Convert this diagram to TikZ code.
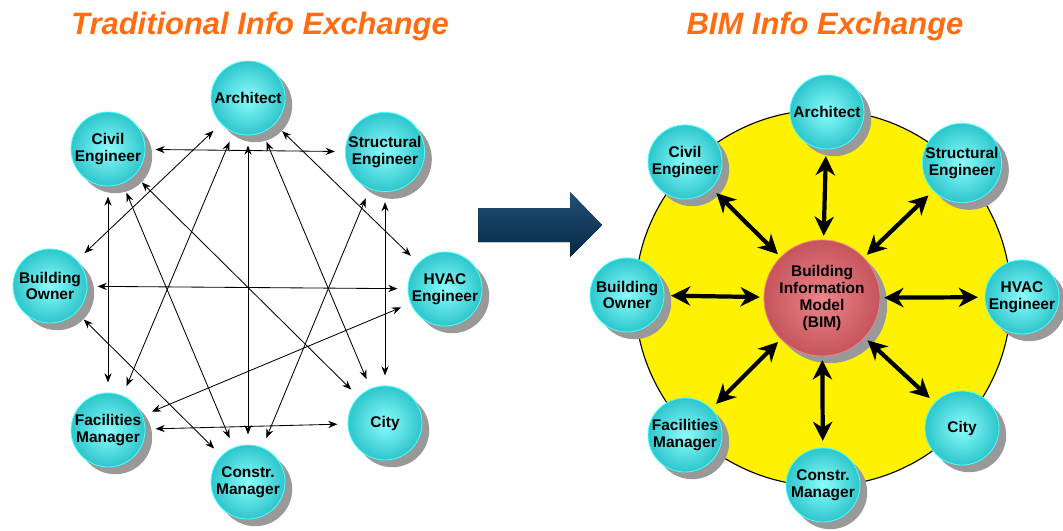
\documentclass[tikz,border=0pt]{standalone}
\usepackage{fontspec}
\setmainfont{Liberation Sans}
\usetikzlibrary{arrows.meta,shadows}

\definecolor{titleorange}{RGB}{255,108,18}
\definecolor{aquain}{RGB}{140,252,252}
\definecolor{aquaout}{RGB}{45,198,204}
\definecolor{aquarim}{RGB}{70,255,255}
\definecolor{bimin}{RGB}{236,132,136}
\definecolor{bimout}{RGB}{198,84,92}
\definecolor{navytop}{RGB}{32,80,120}
\definecolor{navybot}{RGB}{8,40,68}

\begin{document}
\begin{tikzpicture}[x=0.025cm, y=-0.025cm,
    party/.style={circle, minimum size=1.85cm, inner sep=0pt, outer sep=5pt,
      draw=aquarim, line width=0.6pt, inner color=aquain, outer color=aquaout,
      drop shadow={shadow xshift=1.8mm, shadow yshift=-1.8mm, fill=black!40, opacity=1},
      font=\bfseries\fontsize{11}{12}\selectfont, align=center},
    oldparty/.style={party, outer sep=7.5pt},
    hub/.style={party, minimum size=2.9cm, outer sep=3pt, draw=bimin,
      inner color=bimin, outer color=bimout},
    title/.style={anchor=base, text=titleorange, font=\bfseries\itshape\fontsize{22}{24}\selectfont},
    link/.style={{Stealth[length=2.3mm,width=1.8mm]}-{Stealth[length=2.3mm,width=1.8mm]}, line width=0.6pt},
    spoke/.style={{Stealth[length=4.8mm,width=4.8mm,inset=1.5mm]}-{Stealth[length=4.8mm,width=4.8mm,inset=1.5mm]}, line width=3pt}]
      \useasboundingbox (0,0) rectangle (1063,531);

      \node (t-left) [title] at (260,35) {Traditional Info Exchange};
      \node (t-right) [title] at (825,35) {BIM Info Exchange};

      % traditional exchange
      \node (l-arch) [oldparty] at (248,98) {Architect};
      \node (l-civil) [oldparty] at (108,149) {Civil\\Engineer};
      \node (l-struct) [oldparty] at (385,152) {Structural\\Engineer};
      \node (l-owner) [oldparty] at (50,286) {Building\\Owner};
      \node (l-hvac) [oldparty] at (445,289) {HVAC\\Engineer};
      \node (l-fac) [oldparty] at (108,430) {Facilities\\Manager};
      \node (l-city) [oldparty] at (385,423) {City};
      \node (l-cm) [oldparty] at (248,482) {Constr.\\Manager};

      \draw[link] (l-civil) -- (l-struct);
      \draw[link] (l-arch) -- (l-owner);
      \draw[link] (l-arch) -- (l-fac);
      \draw[link] (l-arch) -- (l-cm);
      \draw[link] (l-arch) -- (l-city);
      \draw[link] (l-arch) -- (l-hvac);
      \draw[link] (l-civil) -- (l-fac);
      \draw[link] (l-civil) -- (l-cm);
      \draw[link] (l-civil) -- (l-city);
      \draw[link] (l-struct) -- (l-cm);
      \draw[link] (l-struct) -- (l-city);
      \draw[link] (l-owner) -- (l-hvac);
      \draw[link] (l-owner) -- (l-cm);
      \draw[link] (l-hvac) -- (l-fac);
      \draw[link] (l-fac) -- (l-city);

      \fill[top color=navytop, bottom color=navybot]
        (478,208) -- (570,208) -- (570,192) -- (602,225) -- (570,257) -- (570,242) -- (478,242) -- cycle;

      % BIM exchange
      \draw[fill=yellow, line width=0.8pt] (823,298) circle[radius=188];

      \node (r-bim) [hub] at (822,298) {Building\\Information\\Model\\(BIM)};
      \node (r-arch) [party] at (827,112) {Architect};
      \node (r-civil) [party] at (685,162) {Civil\\Engineer};
      \node (r-struct) [party] at (962,163) {Structural\\Engineer};
      \node (r-owner) [party] at (627,295) {Building\\Owner};
      \node (r-hvac) [party] at (1022,297) {HVAC\\Engineer};
      \node (r-fac) [party] at (685,435) {Facilities\\Manager};
      \node (r-city) [party] at (962,428) {City};
      \node (r-cm) [party] at (823,485) {Constr.\\Manager};

      \draw[spoke] (r-bim) -- (r-arch);
      \draw[spoke] (r-bim) -- (r-civil);
      \draw[spoke] (r-bim) -- (r-struct);
      \draw[spoke] (r-bim) -- (r-owner);
      \draw[spoke] (r-bim) -- (r-hvac);
      \draw[spoke] (r-bim) -- (r-fac);
      \draw[spoke] (r-bim) -- (r-city);
      \draw[spoke] (r-bim) -- (r-cm);
\end{tikzpicture}
\end{document}
